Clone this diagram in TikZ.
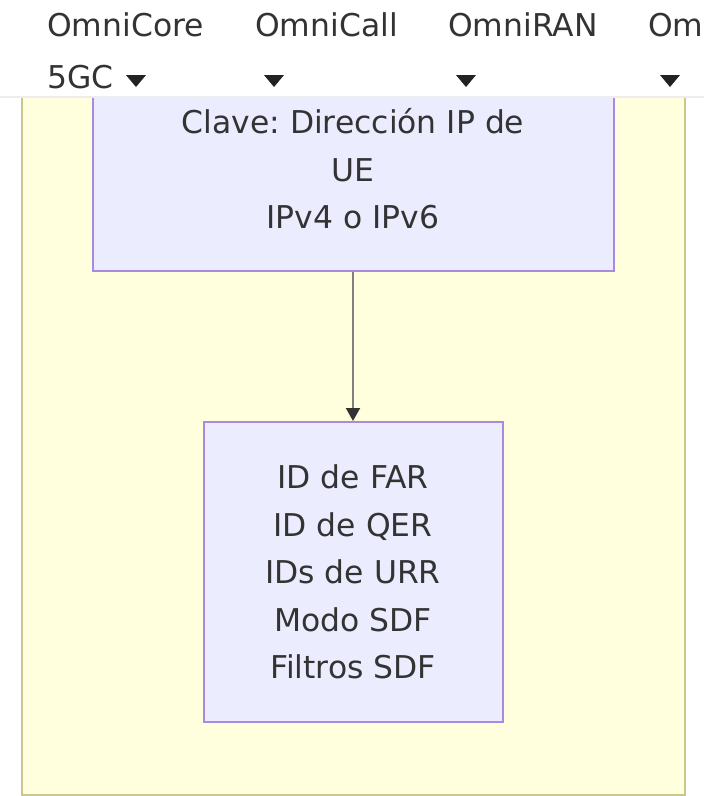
\documentclass[tikz,border=0pt]{standalone}
\usepackage{fontspec}
\setmainfont{DejaVu Sans}
\usetikzlibrary{arrows.meta}
\definecolor{clusterfill}{HTML}{FFFFDE}
\definecolor{clusterline}{HTML}{C8C88A}
\definecolor{boxfill}{HTML}{ECECFF}
\definecolor{boxline}{HTML}{A88BE0}
\definecolor{txt}{HTML}{333333}
\definecolor{edgeline}{HTML}{808080}
\definecolor{tipdark}{HTML}{333333}
\definecolor{menudark}{HTML}{222222}
\frenchspacing
\begin{document}
\begin{tikzpicture}[x=1pt,y=-1pt,
  every node/.style={font=\fontsize{31.4}{47.5}\selectfont\frenchspacing, text=txt},
  databox/.style={draw=boxline, fill=boxfill, line width=2pt, align=center, inner sep=0pt},
  menuitem/.style={anchor=base west, inner sep=0pt},
  menutri/.style={fill=menudark, draw=none}]
\useasboundingbox (0,0) rectangle (704,796);
\fill[white] (0,0) rectangle (704,796);
% cluster
\draw[draw=clusterline, fill=clusterfill, line width=2pt] (22,40) rectangle (685,795);
% boxes
\node[databox, minimum width=521pt, minimum height=204pt] (key) at (353,169)
  {Clave: Dirección IP de\\UE\\IPv4 o IPv6};
\node[databox, minimum width=299pt, minimum height=300pt] (rule) at (353,572)
  {ID de FAR\\ID de QER\\IDs de URR\\Modo SDF\\Filtros SDF};
\draw[edgeline, line width=2pt, -{Triangle[width=14pt,length=13pt,color=tipdark]}] (key) -- (rule);
% menu bar
\fill[white] (0,0) rectangle (704,96.5);
\draw[black!7, line width=1.5pt] (0,97) -- (704,97);
\node[menuitem] (m1) at (47,36) {OmniCore};
\node[menuitem] (m1b) at (47,88) {5GC};
\node[menuitem] (m2) at (255,36) {OmniCall};
\node[menuitem] (m3) at (448,36) {OmniRAN};
\node[menuitem] (m4) at (648,36) {Om};
\foreach \cx in {136,274,466,670}
  \fill[menutri] (\cx-10,75) -- (\cx+10,75) -- (\cx,87) -- cycle;
\end{tikzpicture}
\end{document}
